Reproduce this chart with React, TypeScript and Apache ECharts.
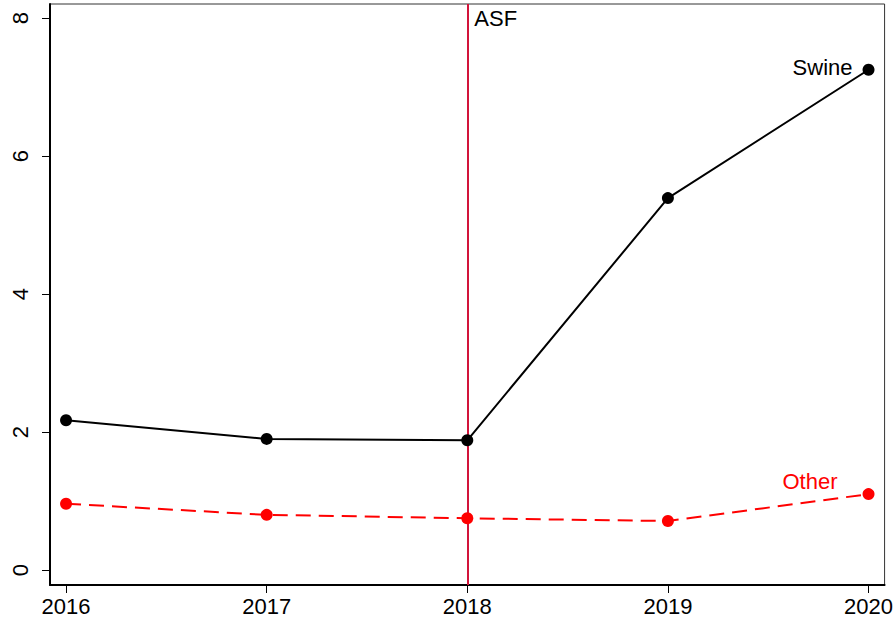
import React, { useEffect, useRef } from "react";
import * as echarts from "echarts";

const years = [2016, 2017, 2018, 2019, 2020];
const swine = [2.17, 1.9, 1.88, 5.39, 7.25];
const other = [0.96, 0.8, 0.75, 0.71, 1.1];
const yTicks = [0, 2, 4, 6, 8];
const eventYear = 2018;
const eventLabel = "ASF";

const FONT = "'Liberation Sans', Arial, sans-serif";

export default function App() {
  const ref = useRef<HTMLDivElement>(null);
  useEffect(() => {
    document.body.style.margin = "0";
    const chart = echarts.init(ref.current!, null, { renderer: "svg" });
    const lastIdx = years.length - 1;
    chart.setOption({
      animation: false,
      backgroundColor: "#fff",
      grid: {
        left: 50,
        right: 11,
        top: 4,
        bottom: 37,
        show: true,
        borderColor: "#333",
        borderWidth: 1,
      },
      xAxis: {
        type: "value",
        min: 2015.92,
        max: 2020.08,
        splitLine: { show: false },
        axisLine: { show: true, onZero: false, lineStyle: { color: "#000", width: 2 } },
        axisTick: {
          show: true,
          length: 8,
          customValues: years,
          lineStyle: { color: "#000", width: 1 },
        },
        axisLabel: {
          customValues: years,
          color: "#000",
          fontSize: 22,
          fontFamily: FONT,
          margin: 10,
          formatter: (v: number) => String(v),
        },
      },
      yAxis: {
        type: "value",
        min: -0.217,
        max: 8.203,
        splitLine: { show: false },
        axisLine: { show: true, onZero: false, lineStyle: { color: "#000", width: 2 } },
        axisTick: {
          show: true,
          length: 8,
          customValues: yTicks,
          lineStyle: { color: "#000", width: 1 },
        },
        axisLabel: {
          customValues: yTicks,
          color: "#000",
          fontSize: 22,
          fontFamily: FONT,
          rotate: 90,
          margin: 19,
          formatter: (v: number) => String(v),
        },
      },
      series: [
        {
          type: "line",
          name: "Swine",
          data: years.map((y, i) => [y, swine[i]]),
          symbol: "circle",
          symbolSize: 12,
          lineStyle: { color: "#000", width: 2 },
          itemStyle: { color: "#000" },
          z: 3,
          label: {
            show: true,
            position: "left",
            distance: 10,
            offset: [0, -2],
            color: "#000",
            fontSize: 22,
            fontFamily: FONT,
            formatter: (p: any) => (p.dataIndex === lastIdx ? "Swine" : ""),
          },
          markLine: {
            silent: true,
            symbol: "none",
            lineStyle: { color: "#D2143A", width: 2, type: "solid" },
            label: { show: false },
            data: [{ xAxis: eventYear }],
            z: 1,
          },
          markPoint: {
            symbol: "circle",
            symbolSize: 0,
            data: [{ coord: [eventYear, 8.203] }],
            label: {
              show: true,
              position: "right",
              distance: 7,
              offset: [0, 14],
              color: "#000",
              fontSize: 22,
              fontFamily: FONT,
              formatter: eventLabel,
            },
          },
        },
        {
          type: "line",
          name: "Other",
          data: years.map((y, i) => [y, other[i]]),
          symbol: "circle",
          symbolSize: 12,
          lineStyle: { color: "#FF0000", width: 2, type: [15, 8] },
          itemStyle: { color: "#FF0000" },
          z: 3,
          label: {
            show: true,
            position: "left",
            distance: 25,
            offset: [0, -13],
            color: "#FF0000",
            fontSize: 22,
            fontFamily: FONT,
            formatter: (p: any) => (p.dataIndex === lastIdx ? "Other" : ""),
          },
        },
      ],
    });
    return () => chart.dispose();
  }, []);
  return <div ref={ref} style={{ width: 896, height: 622 }} />;
}
